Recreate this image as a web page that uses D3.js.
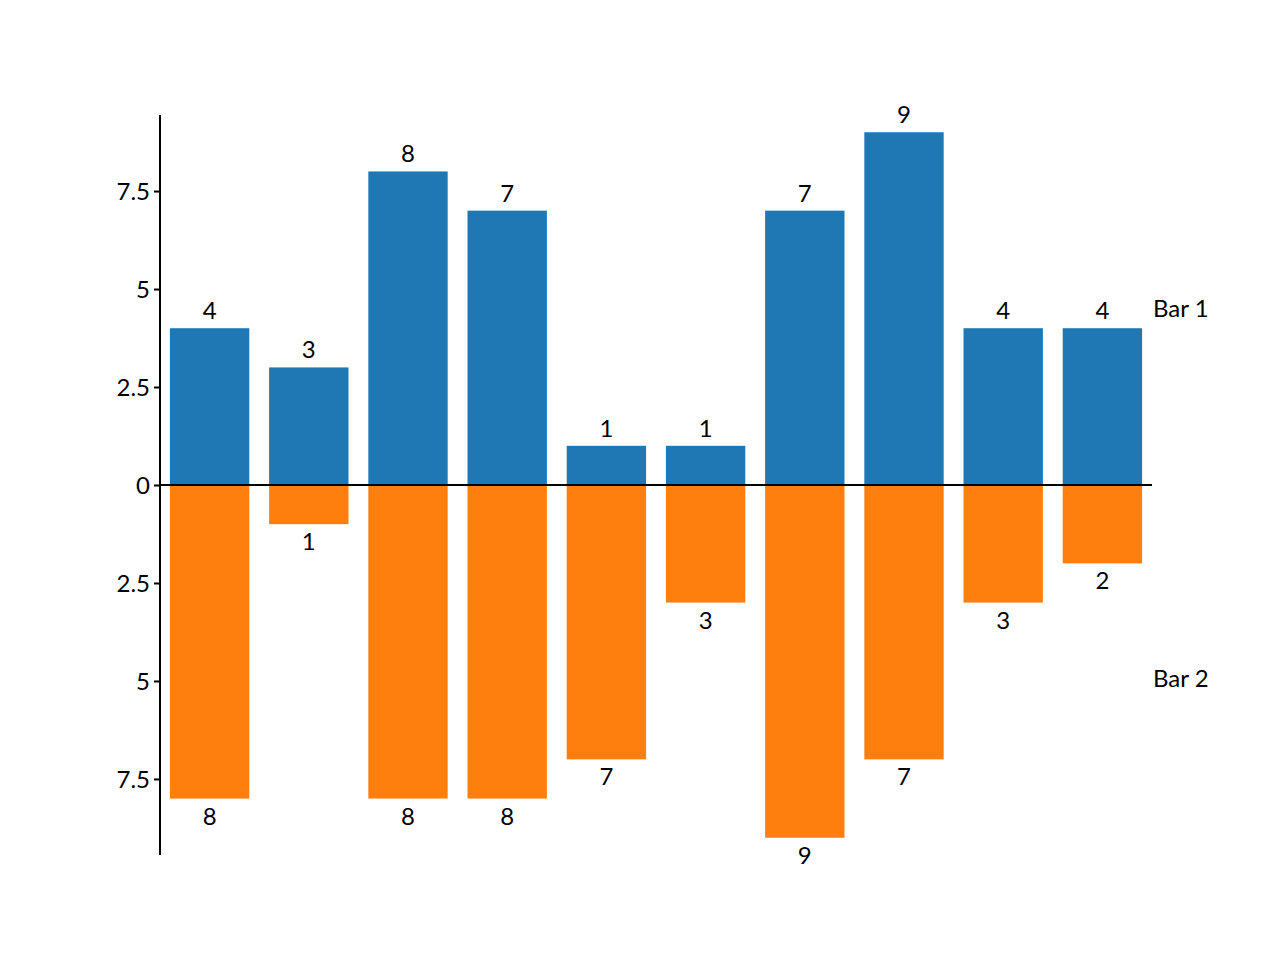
<!DOCTYPE html>
<html><head><meta charset="utf-8">
<script src="https://cdn.jsdelivr.net/npm/d3@7"></script>
<style>body{margin:0;background:#fff}text{font-family:Lato,"DejaVu Sans",sans-serif}</style>
</head><body><svg id="c" width="1280" height="960"></svg>
<script>
const categories = ["A","B","C","D","E","F","G","H","I","J"];
const bar1 = [4,3,8,7,1,1,7,9,4,4];
const bar2 = [8,1,8,8,7,3,9,7,3,2];
const ticks = [-7.5,-5,-2.5,0,2.5,5,7.5];
const seriesNames = ["Bar 1","Bar 2"];

const svg = d3.select("#c");
const x = d3.scaleBand().domain(categories).range([160,1152]).paddingInner(0.2).paddingOuter(0.1);
const y = d3.scaleLinear().domain([-9.44,9.44]).range([855,115]);

svg.selectAll(".b1").data(bar1).join("rect")
  .attr("x",(d,i)=>x(categories[i])).attr("width",x.bandwidth())
  .attr("y",d=>y(d)).attr("height",d=>y(0)-y(d)).attr("fill","#1f77b4");
svg.selectAll(".b2").data(bar2).join("rect")
  .attr("x",(d,i)=>x(categories[i])).attr("width",x.bandwidth())
  .attr("y",y(0)).attr("height",d=>y(-d)-y(0)).attr("fill","#ff7f0e");

svg.selectAll(".l1").data(bar1).join("text")
  .attr("x",(d,i)=>x(categories[i])+x.bandwidth()/2).attr("y",d=>y(d)-9)
  .attr("text-anchor","middle").attr("font-size",24).text(d=>d);
svg.selectAll(".l2").data(bar2).join("text")
  .attr("x",(d,i)=>x(categories[i])+x.bandwidth()/2).attr("y",d=>y(-d)+26)
  .attr("text-anchor","middle").attr("font-size",24).text(d=>d);

const ax = svg.append("g").attr("transform","translate(160,0)")
  .call(d3.axisLeft(y).tickValues(ticks).tickSize(6).tickFormat(d=>d3.format("~g")(Math.abs(d))));
ax.select(".domain").attr("d","M0,115V855").attr("stroke","#000").attr("stroke-width",2);
ax.selectAll(".tick line").attr("stroke","#000").attr("stroke-width",2);
ax.selectAll(".tick text").attr("font-size",24).attr("font-family","Lato").attr("fill","#000").attr("x",-10).attr("dy","0.35em");

svg.append("line").attr("x1",160).attr("x2",1152).attr("y1",y(0)).attr("y2",y(0)).attr("stroke","#000").attr("stroke-width",2);

svg.append("text").attr("x",1153).attr("y",y(4.5)).attr("dy","0.35em").attr("font-size",24).text(seriesNames[0]);
svg.append("text").attr("x",1153).attr("y",y(-4.94)).attr("dy","0.35em").attr("font-size",24).text(seriesNames[1]);
</script></body></html>
